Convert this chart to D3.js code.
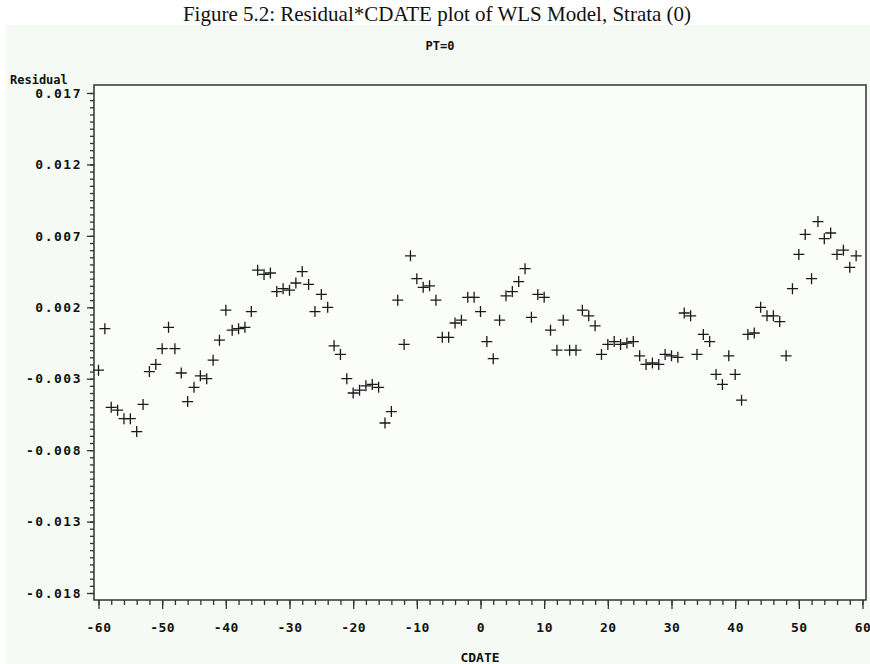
<!DOCTYPE html>
<html>
<head>
<meta charset="utf-8">
<script src="https://cdn.jsdelivr.net/npm/d3@7"></script>
<style>
  body { margin: 0; background: #ffffff; }
  svg { display: block; }
</style>
</head>
<body>
<svg id="chart"></svg>
<script>
// data
var cdate = [-60,-59,-58,-57,-56,-55,-54,-53,-52,-51,-50,-49,-48,-47,-46,-45,-44,-43,-42,-41,
  -40,-39,-38,-37,-36,-35,-34,-33,-32,-31,-30,-29,-28,-27,-26,-25,-24,-23,-22,-21,
  -20,-19,-18,-17,-16,-15,-14,-13,-12,-11,-10,-9,-8,-7,-6,-5,-4,-3,-2,-1,
  0,1,2,3,4,5,6,7,8,9,10,11,12,13,14,15,16,17,18,19,
  20,21,22,23,24,25,26,27,28,29,30,31,32,33,34,35,36,37,38,39,
  40,41,42,43,44,45,46,47,48,49,50,51,52,53,54,55,56,57,58,59]

var residual = [-0.0024,0.0005,-0.0050,-0.0052,-0.0058,-0.0058,-0.0067,-0.0048,-0.0025,-0.0020,
  -0.0009,0.0006,-0.0009,-0.0026,-0.0046,-0.0036,-0.0028,-0.0030,-0.0017,-0.0003,
  0.0018,0.0004,0.0005,0.0006,0.0017,0.0046,0.0043,0.0044,0.0031,0.0033,
  0.0032,0.0037,0.0045,0.0036,0.0017,0.0029,0.0020,-0.0007,-0.0013,-0.0030,
  -0.0040,-0.0038,-0.0035,-0.0034,-0.0036,-0.0061,-0.0053,0.0025,-0.0006,0.0056,
  0.0040,0.0034,0.0035,0.0025,-0.0001,-0.0001,0.0009,0.0011,0.0027,0.0027,
  0.0017,-0.0004,-0.0016,0.0011,0.0028,0.0031,0.0038,0.0047,0.0013,0.0029,
  0.0027,0.0004,-0.0010,0.0011,-0.0010,-0.0010,0.0018,0.0014,0.0007,-0.0013,
  -0.0006,-0.0004,-0.0006,-0.0005,-0.0004,-0.0014,-0.0020,-0.0019,-0.0020,-0.0013,
  -0.0014,-0.0015,0.0016,0.0014,-0.0013,0.0001,-0.0004,-0.0027,-0.0034,-0.0014,
  -0.0027,-0.0045,0.0001,0.0002,0.0020,0.0014,0.0014,0.0010,-0.0014,0.0033,
  0.0057,0.0071,0.0040,0.0080,0.0068,0.0072,0.0057,0.0060,0.0048,0.0056]

var xTicks = [-60,-50,-40,-30,-20,-10,0,10,20,30,40,50,60]
var xTickLabels = ['-60','-50','-40','-30','-20','-10','0','10','20','30','40','50','60']
var yTicks = [0.017,0.012,0.007,0.002,-0.003,-0.008,-0.013,-0.018]
var yTickLabels = ['0.017','0.012','0.007','0.002','-0.003','-0.008','-0.013','-0.018']

var W = 870, H = 664
var frame = {left:94, right:866, top:85, bottom:600}

var svg = d3.select('#chart')
  .attr('width', W)
  .attr('height', H)

// page + plot background
svg.append('rect')
  .attr('x', 6).attr('y', 25)
  .attr('width', W-6).attr('height', H-25)
  .attr('fill', '#f5faf4')

svg.append('rect')
  .attr('x', frame.left).attr('y', frame.top)
  .attr('width', frame.right-frame.left).attr('height', frame.bottom-frame.top)
  .attr('fill', '#fafdfa')
  .attr('stroke', '#333')
  .attr('stroke-width', 1.5)

// caption above the plot
svg.append('text')
  .attr('x', 437)
  .attr('y', 21)
  .attr('text-anchor', 'middle')
  .attr('font-family', 'Liberation Serif, Times New Roman, serif')
  .attr('font-size', 21)
  .attr('fill', '#111')
  .text('Figure 5.2: Residual*CDATE plot of WLS Model, Strata (0)')

var monoFont = 'DejaVu Sans Mono, Liberation Mono, monospace'

svg.append('text')
  .attr('x', 440)
  .attr('y', 50)
  .attr('text-anchor', 'middle')
  .attr('font-family', monoFont)
  .attr('font-size', 12)
  .attr('font-weight', 600)
  .attr('fill', '#111')
  .text('PT=0')

//x axis stuff
var x_scale = d3.scaleLinear()
  .domain([-60, 60])
  .range([98.5, 862.5])

var xMinor = svg.append('g')
  .attr('transform', `translate(0,${frame.bottom})`)
  .call(d3.axisBottom(x_scale).tickValues(d3.range(-60, 61, 2)).tickSize(5).tickFormat(''))
xMinor.select('.domain').remove()

var xAxis = svg.append('g')
  .attr('class', 'x_axis_g')
  .attr('transform', `translate(0,${frame.bottom})`)
  .call(d3.axisBottom(x_scale).tickValues(xTicks).tickSize(9).tickPadding(14)
    .tickFormat(function(d, i){ return xTickLabels[i] }))
xAxis.select('.domain').remove()
xAxis.selectAll('text')
  .attr('font-family', monoFont)
  .attr('font-size', 13)
  .attr('font-weight', 'bold')
  .attr('letter-spacing', 0.5)
  .attr('fill', '#111')

svg.append('text')
  .attr('x', 480)
  .attr('y', 662)
  .attr('text-anchor', 'middle')
  .attr('font-family', monoFont)
  .attr('font-size', 13)
  .attr('font-weight', 'bold')
  .attr('fill', '#111')
  .text('CDATE')

//y axis stuff
var y_scale = d3.scaleLinear()
  .domain([-0.018, 0.017])
  .range([593, 93])

var yMinor = svg.append('g')
  .attr('transform', `translate(${frame.left},0)`)
  .call(d3.axisLeft(y_scale).tickValues(d3.range(-0.018, 0.01701, 0.0005)).tickSize(4).tickFormat(''))
yMinor.select('.domain').remove()

var yAxis = svg.append('g')
  .attr('class', 'y_axis_g')
  .attr('transform', `translate(${frame.left},0)`)
  .call(d3.axisLeft(y_scale).tickValues(yTicks).tickSize(7).tickPadding(5)
    .tickFormat(function(d, i){ return yTickLabels[i] }))
yAxis.select('.domain').remove()
yAxis.selectAll('text')
  .attr('font-family', monoFont)
  .attr('font-size', 13)
  .attr('font-weight', 'bold')
  .attr('letter-spacing', 1.5)
  .attr('fill', '#111')

svg.selectAll('.tick line').attr('stroke', '#333').attr('stroke-width', 1.3)

svg.append('text')
  .attr('x', 10)
  .attr('y', 84)
  .attr('font-family', monoFont)
  .attr('font-size', 12)
  .attr('font-weight', 'bold')
  .attr('fill', '#111')
  .text('Residual')

// plus markers
var pts = cdate.map(function(d, i){ return {x: d, y: residual[i]} })
var arm = 5.5

svg.append('g')
  .selectAll('path')
  .data(pts)
  .join('path')
  .attr('d', function(d){
    var cx = x_scale(d.x), cy = y_scale(d.y)
    return `M${cx-arm},${cy}H${cx+arm}M${cx},${cy-arm}V${cy+arm}`
  })
  .attr('stroke', '#1a1a1a')
  .attr('stroke-width', 1.3)
  .attr('fill', 'none')
</script>
</body>
</html>
